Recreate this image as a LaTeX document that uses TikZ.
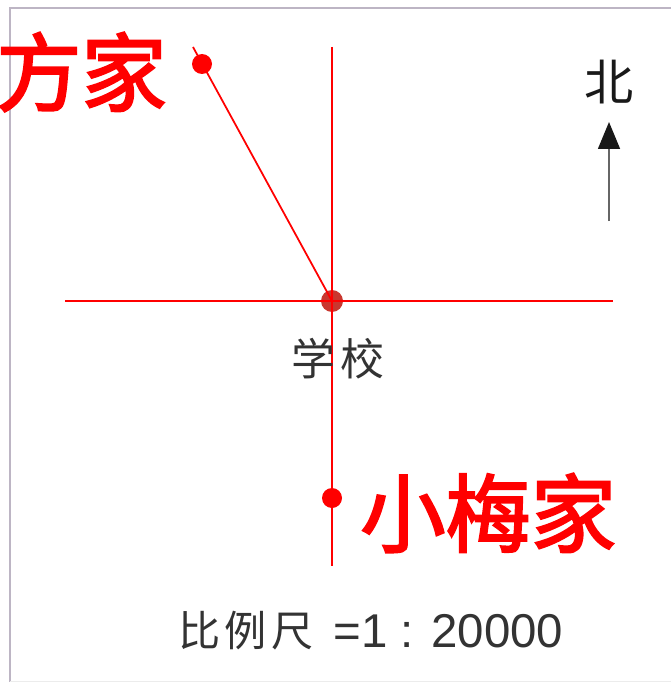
\documentclass[tikz,border=0pt]{standalone}
\usepackage{fontspec}
\newfontfamily\cjk{Noto Sans CJK SC}
\newfontfamily\homefont[FakeBold=2.6]{Noto Sans CJK SC}
\newfontfamily\numfont{Liberation Sans}
\usetikzlibrary{positioning, arrows.meta}

\begin{document}
\begin{tikzpicture}[
    x=0.02cm, y=-0.02cm,
    >=Stealth,
    redline/.style={draw=mapred, line width=1pt},
    reddot/.style={circle, fill=mapred, inner sep=0pt, minimum size=0.4cm},
    homelabel/.style={font=\homefont\fontsize{48.5}{48.5}\selectfont, text=mapred, inner sep=0pt},
    maplabel/.style={text=textgray, inner sep=0pt},
]

% ── Colors ──
\definecolor{mapred}{HTML}{FF0000}
\definecolor{schoolred}{HTML}{C9372F}
\definecolor{framegray}{HTML}{BDB5C4}
\definecolor{textgray}{HTML}{333333}

% ── Page and frame ──
\useasboundingbox (0,0) rectangle (671,682);
\fill[white] (0,0) rectangle (671,682);
\draw[framegray, line width=0.8pt] (671,8) -- (10,8) -- (10,682);
\draw[gray!15, line width=0.5pt] (10,681) -- (671,681);

% ── Ends of the axes ──
\coordinate (north) at (332,47);
\coordinate (south) at (332,566);
\coordinate (west) at (65,301);
\coordinate (east) at (613,301);
\coordinate (nwend) at (193,47);

% ── School and the two homes ──
\node[circle, fill=schoolred, inner sep=0pt, minimum size=0.44cm] (school) at (332,301) {};
\node[reddot] (fanghome) at (202,64) {};
\node[reddot] (meihome) at (332,498) {};

% ── Red lines ──
\draw[redline] (west) -- (east);
\draw[redline] (north) -- (south);
\draw[redline] (nwend) -- (school.center);

% ── Labels ──
\node[homelabel, anchor=east] (fanglabel) at (167,72) {方家};
\node[homelabel, anchor=west] (meilabel) at (360,513) {小梅家};
\node[maplabel, font=\cjk\fontsize{25}{25}\selectfont] (schoollabel) at (338,359) {学\hspace{2.5pt}校};
\node[maplabel, anchor=west, font=\cjk\fontsize{24}{24}\selectfont] (scalelabel) at (178,631)
    {比\hspace{2pt}例\hspace{3pt}尺};
\node[maplabel, anchor=west, font=\numfont\fontsize{27}{27}\selectfont] (scalevalue) at (333,631) {=1 : 20000};

% ── North arrow ──
\node[maplabel, text=black!90, font=\cjk\fontsize{28}{28}\selectfont] (northlabel) at (609,82) {北};
\coordinate (arrowtail) at (609,221);
\coordinate (arrowtip) at (609,122);
\draw[-{Triangle[length=0.54cm, width=0.44cm, color=black!90]}, black!60, line width=0.9pt] (arrowtail) -- (arrowtip);

\end{tikzpicture}
\end{document}
